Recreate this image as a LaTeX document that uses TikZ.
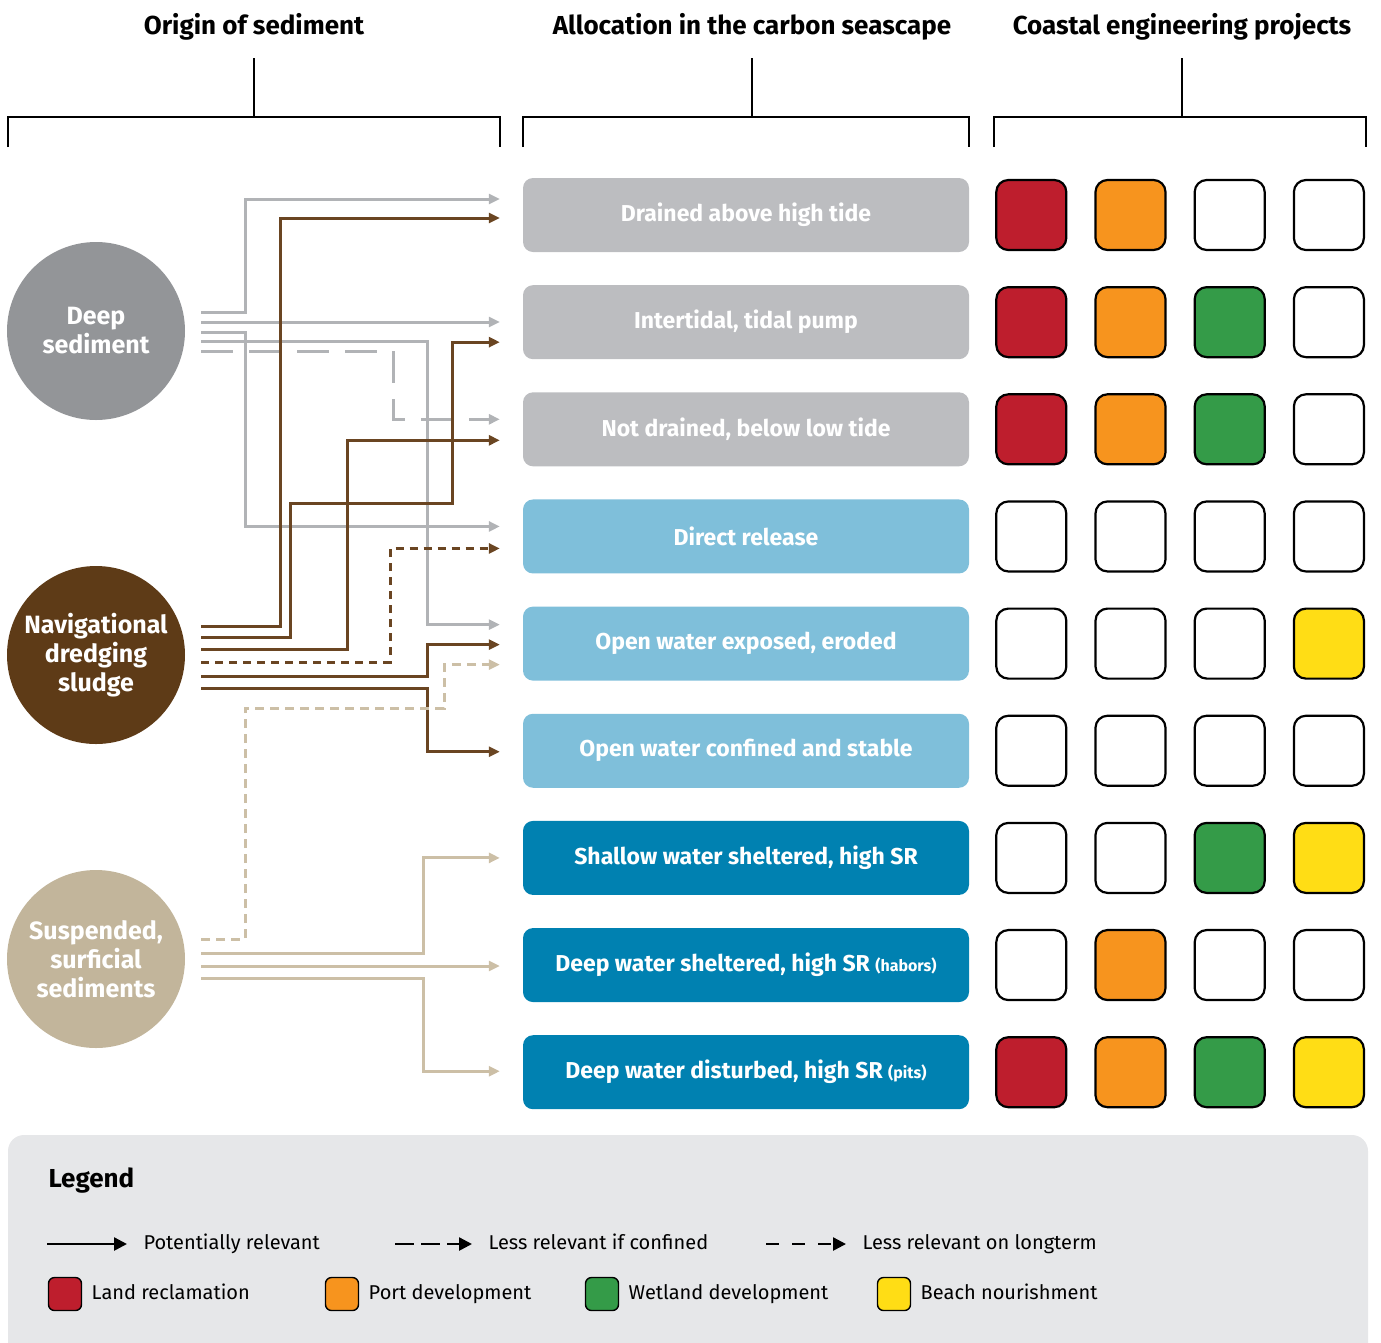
\documentclass[tikz,border=0pt]{standalone}
\usepackage{fontspec}
\setmainfont{Fira Sans}
\usetikzlibrary{arrows.meta,positioning,calc}

\definecolor{boxgrey}{HTML}{BCBDC0}
\definecolor{boxlight}{HTML}{7FBFDA}
\definecolor{boxdark}{HTML}{0081B1}
\definecolor{deepgrey}{HTML}{939598}
\definecolor{navbrown}{HTML}{5E3B17}
\definecolor{susptan}{HTML}{C2B59B}
\definecolor{linegrey}{HTML}{B1B3B6}
\definecolor{linebrown}{HTML}{6A4522}
\definecolor{linetan}{HTML}{CCBFA6}
\definecolor{legendbg}{HTML}{E6E7E9}
\definecolor{landred}{HTML}{BE1E2D}
\definecolor{portorange}{HTML}{F7941E}
\definecolor{wetgreen}{HTML}{349B48}
\definecolor{beachyellow}{HTML}{FFDD15}

\tikzset{
  source/.style={circle,minimum size=178pt,inner sep=0pt,align=center,text=white,
    font=\fontsize{25}{29}\selectfont\bfseries},
  seascape/.style={rounded corners=10pt,minimum width=446pt,minimum height=74pt,
    text=white,font=\fontsize{23}{26}\selectfont\bfseries},
  project/.style={draw=black,line width=2.2pt,rounded corners=12pt,minimum size=70pt},
  keybox/.style={draw=black,line width=1.4pt,rounded corners=6pt,minimum size=33pt},
  flow/.style={line width=3pt,-{Triangle[length=11pt,width=10pt]}},
  keyflow/.style={line width=2.5pt,black,-{Triangle[length=13pt,width=13pt]}},
  header/.style={font=\fontsize{26}{30}\selectfont\bfseries},
  keytext/.style={anchor=west,text height=15pt,text depth=5pt,font=\fontsize{20}{24}\selectfont},
  bracket/.style={line width=2.5pt},
}

\begin{document}
\begin{tikzpicture}[x=1pt,y=-1pt]
  \useasboundingbox (0,0) rectangle (1381,1342);

  % headers
  \node[header] (horigin) at (254,27) {Origin of sediment};
  \node[header] (hseascape) at (752,27) {Allocation in the carbon seascape};
  \node[header] (hprojects) at (1182,27) {Coastal engineering projects};
  \draw[bracket] (254,58) -- (254,117);
  \draw[bracket] (8,147) |- (500,117) -- (500,147);
  \draw[bracket] (752,58) -- (752,117);
  \draw[bracket] (523,147) |- (969,117) -- (969,147);
  \draw[bracket] (1182,58) -- (1182,117);
  \draw[bracket] (994,147) |- (1366,117) -- (1366,147);

  % origin of sediment
  \node[source,fill=deepgrey] (deep) at (96,331) {Deep\\sediment};
  \node[source,fill=navbrown] (nav) at (96,655) {Navigational\\dredging\\sludge};
  \node[source,fill=susptan] (susp) at (96,959) {Suspended,\\surficial\\sediments};

  % carbon seascape
  \begin{scope}[node distance=32.75pt]
    \node[seascape,fill=boxgrey] (drained) at (746,215) {Drained above high tide};
    \node[seascape,fill=boxgrey,below=of drained] (intertidal) {Intertidal, tidal pump};
    \node[seascape,fill=boxgrey,below=of intertidal] (notdrained) {Not drained, below low tide};
    \node[seascape,fill=boxlight,below=of notdrained] (direct) {Direct release};
    \node[seascape,fill=boxlight,below=of direct] (exposed) {Open water exposed, eroded};
    \node[seascape,fill=boxlight,below=of exposed] (confined) {Open water confined and stable};
    \node[seascape,fill=boxdark,below=of confined] (shallow) {Shallow water sheltered, high SR};
    \node[seascape,fill=boxdark,below=of shallow] (sheltered) {Deep water sheltered, high SR {\fontsize{16}{18}\selectfont(habors)}};
    \node[seascape,fill=boxdark,below=of sheltered] (disturbed) {Deep water disturbed, high SR {\fontsize{16}{18}\selectfont(pits)}};
  \end{scope}

  % coastal engineering projects
  \foreach \b/\fa/\fb/\fc/\fd in {drained/landred/portorange/white/white,
      intertidal/landred/portorange/wetgreen/white,
      notdrained/landred/portorange/wetgreen/white,
      direct/white/white/white/white,
      exposed/white/white/white/beachyellow,
      confined/white/white/white/white,
      shallow/white/white/wetgreen/beachyellow,
      sheltered/white/portorange/white/white,
      disturbed/landred/portorange/wetgreen/beachyellow}{
    \node[project,fill=\fa,right=26pt of \b] (\b1) {};
    \node[project,fill=\fb,right=27pt of \b1] (\b2) {};
    \node[project,fill=\fc,right=27pt of \b2] (\b3) {};
    \node[project,fill=\fd,right=27pt of \b3] (\b4) {};
  }

  % start and end of flows
  \coordinate (d1) at ($(deep.east)+(16,-19)$);
  \coordinate (d2) at ($(deep.east)+(16,-9)$);
  \coordinate (d3) at ($(deep.east)+(16,1)$);
  \coordinate (d4) at ($(deep.east)+(16,10)$);
  \coordinate (d5) at ($(deep.east)+(16,20)$);
  \coordinate (n1) at ($(nav.east)+(16,-29)$);
  \coordinate (n2) at ($(nav.east)+(16,-18)$);
  \coordinate (n3) at ($(nav.east)+(16,-6)$);
  \coordinate (n4) at ($(nav.east)+(16,7)$);
  \coordinate (n5) at ($(nav.east)+(16,21)$);
  \coordinate (n6) at ($(nav.east)+(16,33)$);
  \coordinate (s1) at ($(susp.east)+(16,-20)$);
  \coordinate (s2) at ($(susp.east)+(16,-6)$);
  \coordinate (s3) at ($(susp.east)+(16,7)$);
  \coordinate (s4) at ($(susp.east)+(16,19)$);
  \coordinate (dr1) at ($(drained.west)+(-23,-16)$);
  \coordinate (dr2) at ($(drained.west)+(-23,3)$);
  \coordinate (ip1) at ($(d2 -| intertidal.west)+(-23,0)$);
  \coordinate (ip2) at ($(intertidal.west)+(-23,20)$);
  \coordinate (nd1) at ($(notdrained.west)+(-23,-10)$);
  \coordinate (nd2) at ($(notdrained.west)+(-23,11)$);
  \coordinate (dir1) at ($(direct.west)+(-23,-10)$);
  \coordinate (dir2) at ($(direct.west)+(-23,12)$);
  \coordinate (ow1) at ($(exposed.west)+(-23,-19)$);
  \coordinate (ow2) at ($(exposed.west)+(-23,1)$);
  \coordinate (ow3) at ($(exposed.west)+(-23,21)$);
  \coordinate (oc1) at ($(confined.west)+(-23,1)$);
  \coordinate (sh1) at ($(shallow.west)+(-23,0)$);
  \coordinate (dw1) at ($(s3 -| sheltered.west)+(-23,0)$);
  \coordinate (dd1) at ($(disturbed.west)+(-23,-1)$);

  % deep sediment
  \draw[flow,linegrey] (d1) -- ++(44,0) |- (dr1);
  \draw[flow,linegrey] (d2) -- (ip1);
  \draw[flow,linegrey] (d3) -- ++(44,0) |- (dir1);
  \draw[flow,linegrey] (d4) -- ++(226,0) |- (ow1);
  \draw[flow,linegrey,dash pattern=on 32pt off 16pt] (d5) -- ++(192,0) |- (nd1);
  % navigational dredging sludge
  \draw[flow,linebrown] (n1) -- ++(79,0) |- (dr2);
  \draw[flow,linebrown] (n2) -- ++(89,0) |- (452,503) |- (ip2);
  \draw[flow,linebrown] (n3) -- ++(146,0) |- (nd2);
  \draw[flow,linebrown,dash pattern=on 8pt off 6pt] (n4) -- ++(189,0) |- (dir2);
  \draw[flow,linebrown] (n5) -- ++(226,0) |- (ow2);
  \draw[flow,linebrown] (n6) -- ++(226,0) |- (oc1);
  % suspended sediments
  \draw[flow,linetan,dash pattern=on 9pt off 6pt] (s1) -- ++(44,0) |- (444,708) |- (ow3);
  \draw[flow,linetan] (s2) -- ++(222,0) |- (sh1);
  \draw[flow,linetan] (s3) -- (dw1);
  \draw[flow,linetan] (s4) -- ++(222,0) |- (dd1);

  % legend
  \fill[legendbg,rounded corners=16pt] (8,1135) rectangle (1368,1390);
  \node[anchor=west,font=\fontsize{26}{30}\selectfont\bfseries] (legend) at (45,1180) {Legend};
  \node[keytext] (kpot) at (140,1244) {Potentially relevant};
  \node[keytext] (kconf) at (485,1244) {Less relevant if confined};
  \node[keytext] (klong) at (859,1244) {Less relevant on longterm};
  \draw[keyflow] ($(kpot.west)+(-93,0)$) -- ($(kpot.west)+(-13,0)$);
  \draw[keyflow,dash pattern=on 19pt off 7pt] ($(kconf.west)+(-90,0)$) -- ($(kconf.west)+(-13,0)$);
  \draw[keyflow,dash pattern=on 13pt off 13pt] ($(klong.west)+(-93,0)$) -- ($(klong.west)+(-13,0)$);
  \node[keybox,fill=landred] (kland) at (65,1294) {};
  \node[keytext,right=6pt of kland] {Land reclamation};
  \node[keybox,fill=portorange] (kport) at (342,1294) {};
  \node[keytext,right=6pt of kport] {Port development};
  \node[keybox,fill=wetgreen] (kwet) at (602,1294) {};
  \node[keytext,right=6pt of kwet] {Wetland development};
  \node[keybox,fill=beachyellow] (kbeach) at (894,1294) {};
  \node[keytext,right=6pt of kbeach] {Beach nourishment};
\end{tikzpicture}
\end{document}
